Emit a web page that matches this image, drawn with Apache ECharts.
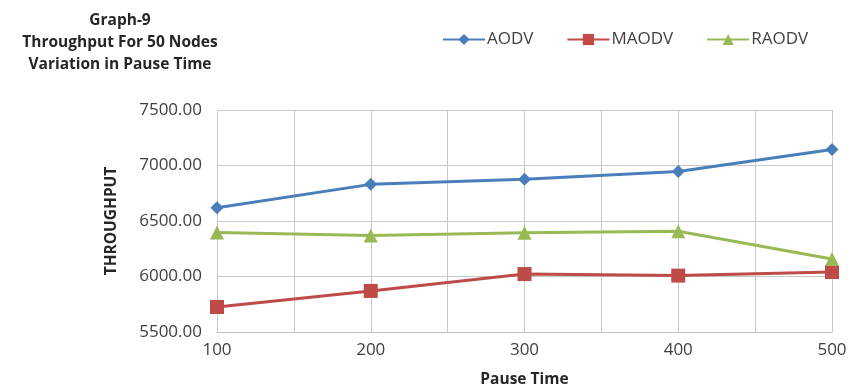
<!DOCTYPE html>
<html><head><meta charset="utf-8">
<script src="https://cdn.jsdelivr.net/npm/echarts@6/dist/echarts.min.js"></script>
<style>html,body{margin:0;padding:0;background:#fff}#c{width:848px;height:391px}</style>
</head><body><div id="c"></div>
<script>
const pauseTimes = [100, 200, 300, 400, 500];
const aodv  = [6620, 6830, 6877, 6945, 7144];
const maodv = [5725, 5870, 6022, 6008, 6040];
const raodv = [6397, 6370, 6395, 6408, 6158];
const titleLines = ['Graph-9', 'Throughput For 50 Nodes', 'Variation in Pause Time'];

const chart = echarts.init(document.getElementById('c'));
const font = '"Open Sans", "Liberation Sans", sans-serif';
function pts(v){ return pauseTimes.map((x,i)=>[x, v[i]]); }
chart.setOption({
  animation: false,
  title: {
    text: titleLines.join('\n'),
    left: 115, top: 5, textAlign: 'center',
    textStyle: { fontFamily: font, fontWeight: 'bold', fontSize: 15.5, lineHeight: 22, color: '#262626' }
  },
  legend: {
    top: 26, left: 437, itemGap: 33, itemWidth: 42, itemHeight: 14,
    textStyle: { fontFamily: font, fontSize: 17, color: '#404040', padding: [0,0,0,-3] },
    data: ['AODV','MAODV','RAODV']
  },
  grid: { left: 217, right: 16, top: 110, bottom: 59, outerBoundsMode: 'none' },
  xAxis: {
    type: 'value', min: 100, max: 500, interval: 100,
    name: 'Pause Time', nameLocation: 'middle', nameGap: 40,
    nameTextStyle: { fontFamily: font, fontWeight: 'bold', fontSize: 15.5, color: '#262626' },
    axisLine: { show: true, lineStyle: { color: '#bfbfbf' } },
    axisTick: { show: false },
    axisLabel: { fontFamily: font, fontSize: 17, color: '#404040', margin: 10 },
    splitLine: { show: true, lineStyle: { color: '#c8c8c8' } },
    minorTick: { show: false, splitNumber: 2 },
    minorSplitLine: { show: true, lineStyle: { color: '#c8c8c8' } }
  },
  yAxis: {
    type: 'value', min: 5500, max: 7500, interval: 500,
    name: 'THROUGHPUT', nameLocation: 'middle', nameGap: 97, nameRotate: 90,
    nameTextStyle: { fontFamily: font, fontWeight: 'bold', fontSize: 15.5, color: '#262626' },
    axisLine: { show: false }, axisTick: { show: false },
    axisLabel: { fontFamily: font, fontSize: 17, color: '#404040', margin: 15,
      formatter: v => v.toFixed(2) },
    splitLine: { show: true, lineStyle: { color: '#c8c8c8' } }
  },
  series: [
    { name: 'AODV', type: 'line', data: pts(aodv), symbol: 'diamond', symbolSize: 13,
      lineStyle: { width: 3, color: '#4a7ebb' }, itemStyle: { color: '#4a7ebb' } },
    { name: 'MAODV', type: 'line', data: pts(maodv), symbol: 'rect', symbolSize: 14,
      lineStyle: { width: 3, color: '#be4b48' }, itemStyle: { color: '#be4b48' } },
    { name: 'RAODV', type: 'line', data: pts(raodv), symbol: 'triangle', symbolSize: 14,
      lineStyle: { width: 3, color: '#98b954' }, itemStyle: { color: '#98b954' } }
  ]
});
</script></body></html>
